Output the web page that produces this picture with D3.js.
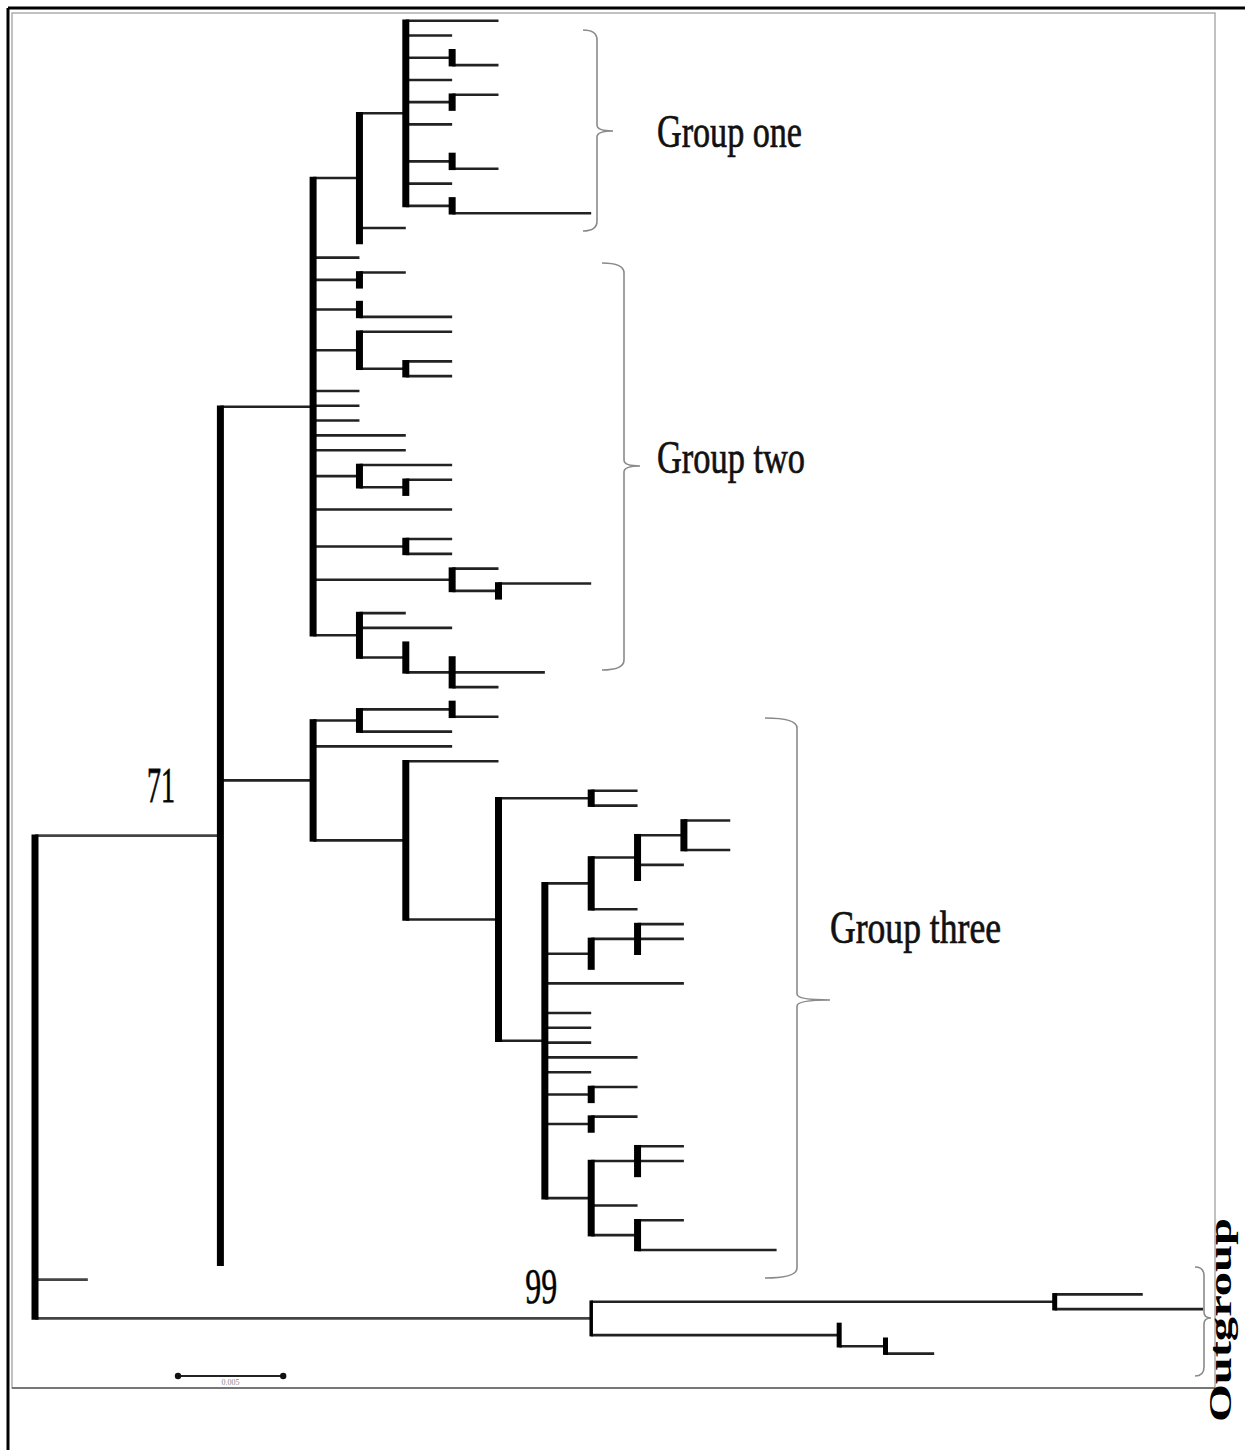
<!DOCTYPE html>
<html>
<head>
<meta charset="utf-8">
<script src="https://cdn.jsdelivr.net/npm/d3@7"></script>
<style>
  html, body { margin: 0; padding: 0; background: #fff; }
  svg { display: block; }
</style>
</head>
<body>
<svg id="tree" width="1245" height="1450"></svg>
<script>
// Tree written as nested arrays: a leaf is its branch length,
// an internal node is [branchLength, [children...]]. Lengths in substitution steps.

// Group one clade
const groupOne = [1, [
  [1, [2, 1, [1, [0, 1]], 1, [1, [1, 0]], 1, 0, [1, [0, 1]], 1, [1, [0, 3]]]],
  1, 0
]];

// Remaining members of the upper clade (group two)
const groupTwo = [
  1,
  [1, [1, 0]],
  [1, [0, 2]],
  [1, [2, 0, [1, [1, 1]]]],
  1, 1, 1, 2, 2,
  [1, [2, [1, [1, 0]]]],
  3, 0,
  [2, [1, 1]],
  [3, [1, [1, [2, 0]]]],
  [1, [1, 2, [1, [0, [1, [0, 2, 1]]]]]]
];

// Lower clade containing group three
const groupThree = [2, [
  [1, [[2, [0, 1]], 2]],
  3,
  [2, [2, 0, [2, [
    [2, [1, 1]],
    [1, [
      [1, [[1, [[1, [1, 0, 1]], 1, 0]], 0, 1]],
      [1, [[1, [1, 1, 0]], 0]],
      3, 0, 1, 1, 1, 2, 1,
      [1, [1, 0]],
      [1, [1, 0]],
      [1, [[1, [1, 1, 0]], 0, 1, [1, [1, 0, 3]]]]
    ]]
  ]]]]
]];

// Outgroup clade
const outgroup = [12, [
  [10, [1.9, 3.2]],
  [5.35, [0, [1.0, [0, 1.05]]]]
]];

const bootstrap = [71, 99];
const groupLabels = ["Group one", "Group two", "Group three", "Outgroup"];
const scaleBarLength = 2.27;
const scaleBarLabel = "0.005";

const ingroup = [4, [[2, [groupOne, ...groupTwo]], groupThree, 0]];
const treeData = [0, [ingroup, 1.14, outgroup]];

const svg = d3.select("#tree");

// outer frame
svg.append("line").attr("x1", 8).attr("y1", 8).attr("x2", 1245).attr("y2", 8)
  .attr("stroke", "#000").attr("stroke-width", 3);
svg.append("line").attr("x1", 8).attr("y1", 8).attr("x2", 8).attr("y2", 1450)
  .attr("stroke", "#000").attr("stroke-width", 3);
// inner panel
svg.append("rect").attr("x", 12).attr("y", 13).attr("width", 1203).attr("height", 1375)
  .attr("fill", "none").attr("stroke", "#a0a0a0").attr("stroke-width", 1.3);
svg.append("line").attr("x1", 12).attr("y1", 1388).attr("x2", 1215).attr("y2", 1388)
  .attr("stroke", "#777").attr("stroke-width", 2);

const root = d3.hierarchy(treeData, d => Array.isArray(d) ? d[1] : null);
root.each(d => {
  d.len = Array.isArray(d.data) ? d.data[0] : d.data;
  d.dist = d.parent ? d.parent.dist + d.len : 0;
});

const leaves = root.leaves();
const x = d3.scaleLinear().domain([0, 25]).range([35, 35 + 25 * 46.35]);
const y = d3.scaleLinear().domain([0, leaves.length - 1]).range([20.7, 1353.6]);

leaves.forEach((d, i) => { d.py = y(i); });
root.eachAfter(d => {
  if (d.children) d.py = (d.children[0].py + d.children[d.children.length - 1].py) / 2;
});

const outRoot = root.children[2];
const outNodes = new Set(outRoot.descendants());

const g = svg.append("g");

// horizontal branches
g.selectAll("line.h")
  .data(root.descendants().filter(d => d.parent && d.len > 0))
  .join("line")
  .attr("class", "h")
  .attr("x1", d => x(d.parent.dist))
  .attr("x2", d => x(d.dist))
  .attr("y1", d => d.py)
  .attr("y2", d => d.py)
  .attr("stroke", d => d.parent === root ? "#444" : "#222")
  .attr("stroke-width", d => d.parent === root ? 2.8 : 2.6);

// vertical connectors at each internal node
g.selectAll("line.v")
  .data(root.descendants().filter(d => d.children))
  .join("line")
  .attr("class", "v")
  .attr("x1", d => x(d.dist))
  .attr("x2", d => x(d.dist))
  .attr("y1", d => d.children[0].py - 1.3)
  .attr("y2", d => d.children[d.children.length - 1].py + 1.3)
  .attr("stroke", "#000")
  .attr("stroke-width", d => d === outRoot ? 3.5 : (outNodes.has(d) ? 5 : 7));

// bootstrap support values
const serif = "'Liberation Serif', 'DejaVu Serif', serif";
const node71 = root.children[0];
g.append("text")
  .attr("x", x(node71.parent.dist) + 112).attr("y", node71.py - 34)
  .attr("font-family", serif).attr("font-size", 50)
  .attr("stroke", "#111").attr("stroke-width", 0.8)
  .attr("textLength", 28).attr("lengthAdjust", "spacingAndGlyphs")
  .text(bootstrap[0]);
g.append("text")
  .attr("x", x(outRoot.dist) - 66).attr("y", outRoot.py - 15)
  .attr("font-family", serif).attr("font-size", 50)
  .attr("stroke", "#111").attr("stroke-width", 0.6)
  .attr("textLength", 32).attr("lengthAdjust", "spacingAndGlyphs")
  .text(bootstrap[1]);

// clade braces
function brace(x0, x1, top, mid, bot, tip) {
  const r = Math.min(10, Math.abs(x1 - x0));
  return `M${x0},${top} Q${x1},${top} ${x1},${top + r}` +
         ` L${x1},${mid - 6} Q${x1},${mid} ${tip},${mid}` +
         ` Q${x1},${mid} ${x1},${mid + 6}` +
         ` L${x1},${bot - r} Q${x1},${bot} ${x0},${bot}`;
}
const braces = [
  [583, 597, 30, 131, 231, 613],
  [602, 624, 263, 466, 670, 640],
  [765, 797, 718, 1000, 1278, 830],
  [1195, 1204, 1267, 1318, 1376, 1211]
];
g.selectAll("path.brace")
  .data(braces)
  .join("path")
  .attr("class", "brace")
  .attr("d", b => brace(...b))
  .attr("fill", "none")
  .attr("stroke", "#8a8a8a")
  .attr("stroke-width", 1.6);

// group names
const labelPos = [
  { x: 657, y: 147, w: 145, size: 46 },
  { x: 657, y: 473, w: 148, size: 46 },
  { x: 830, y: 943, w: 171, size: 46 }
];
labelPos.forEach((p, i) => {
  g.append("text")
    .attr("x", p.x).attr("y", p.y)
    .attr("font-family", serif).attr("font-size", p.size)
    .attr("stroke", "#111").attr("stroke-width", 0.7)
    .attr("textLength", p.w).attr("lengthAdjust", "spacingAndGlyphs")
    .attr("fill", "#111")
    .text(groupLabels[i]);
});
g.append("text")
  .attr("transform", "translate(1231,1422) scale(0.7,1) rotate(-90)")
  .attr("font-family", serif).attr("font-size", 46).attr("font-weight", "bold")
  .attr("textLength", 204).attr("lengthAdjust", "spacingAndGlyphs")
  .text(groupLabels[3]);

// scale bar
const sbX0 = 178, sbY = 1376;
const sbX1 = sbX0 + (x(scaleBarLength) - x(0));
g.append("line").attr("x1", sbX0).attr("x2", sbX1).attr("y1", sbY).attr("y2", sbY)
  .attr("stroke", "#222").attr("stroke-width", 2);
[sbX0, sbX1].forEach(cx => g.append("circle").attr("cx", cx).attr("cy", sbY).attr("r", 3.2).attr("fill", "#111"));
g.append("text")
  .attr("x", (sbX0 + sbX1) / 2).attr("y", sbY + 9)
  .attr("text-anchor", "middle")
  .attr("font-family", serif).attr("font-size", 8).attr("fill", "#888")
  .text(scaleBarLabel);
</script>
</body>
</html>
